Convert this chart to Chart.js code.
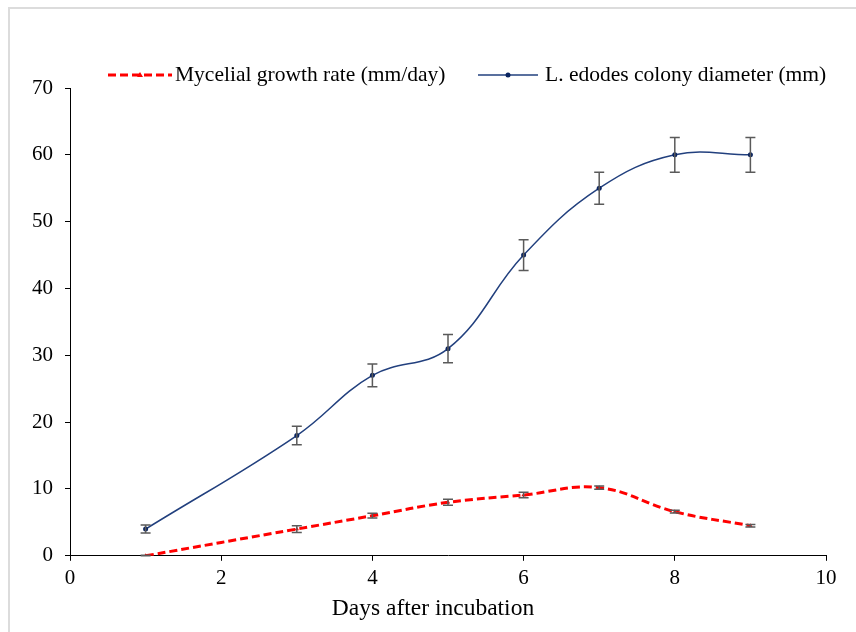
<!DOCTYPE html>
<html>
<head>
<meta charset="utf-8">
<script src="https://cdn.jsdelivr.net/npm/chart.js@4"></script>
<style>
  html, body { margin: 0; padding: 0; background: #fff; }
  #wrap { width: 856px; height: 632px; position: relative; }
</style>
</head>
<body>
<div id="wrap"><canvas id="lineChart" width="856" height="632"></canvas></div>
<script>
// values
const days = [1, 3, 4, 5, 6, 7, 8, 9];
const colonyDiameter = [4, 18, 27, 31, 45, 55, 60, 60];
const colonyErr = [0.6, 1.4, 1.7, 2.1, 2.3, 2.4, 2.6, 2.6];
const growthRate = [0, 4, 6, 8, 9.1, 10.2, 6.6, 4.5];
const growthErr = [0.1, 0.5, 0.35, 0.45, 0.4, 0.25, 0.2, 0.2];
const xTitle = 'Days after incubation';
const legendNames = ['Mycelial growth rate (mm/day)', 'L. edodes colony diameter (mm)'];

const FONT = '"Liberation Serif", "Times New Roman", serif';
const RED = '#ff0000';
const BLUE = '#22407e';

function toPoints(ys) {
    return days.map((d, i) => ({ x: d, y: ys[i] }));
}

// light frame at top / left like the cropped figure
const framePlugin = {
    id: 'frame',
    beforeDraw(chart) {
        const ctx = chart.ctx;
        ctx.save();
        ctx.strokeStyle = '#dcdcdc';
        ctx.lineWidth = 2;
        ctx.beginPath();
        ctx.moveTo(9, 632);
        ctx.lineTo(9, 8);
        ctx.lineTo(856, 8);
        ctx.stroke();
        ctx.restore();
    }
};

// vertical error bars, drawn through the chart scales
const errorBarPlugin = {
    id: 'errorBars',
    afterDatasetsDraw(chart) {
        const ctx = chart.ctx;
        const xs = chart.scales.x, ys = chart.scales.y;
        const sets = [[growthRate, growthErr], [colonyDiameter, colonyErr]];
        ctx.save();
        ctx.strokeStyle = '#5a5a5a';
        ctx.lineWidth = 1.5;
        sets.forEach(([vals, errs]) => {
            vals.forEach((v, i) => {
                const px = xs.getPixelForValue(days[i]);
                const top = ys.getPixelForValue(v + errs[i]);
                const bot = ys.getPixelForValue(Math.max(0, v - errs[i]));
                ctx.beginPath();
                ctx.moveTo(px, top); ctx.lineTo(px, bot);
                ctx.moveTo(px - 5, top); ctx.lineTo(px + 5, top);
                ctx.moveTo(px - 5, bot); ctx.lineTo(px + 5, bot);
                ctx.stroke();
            });
        });
        ctx.restore();
    }
};

// legend at top with line samples and markers, plus the x axis title
const legendPlugin = {
    id: 'topLegend',
    afterDraw(chart) {
        const ctx = chart.ctx;
        const y = 75;
        ctx.save();
        // red dashed sample
        ctx.strokeStyle = RED;
        ctx.lineWidth = 3;
        ctx.setLineDash([8, 4]);
        ctx.beginPath();
        ctx.moveTo(108, y); ctx.lineTo(172, y);
        ctx.stroke();
        ctx.setLineDash([]);
        ctx.fillStyle = RED;
        ctx.beginPath();
        ctx.moveTo(140, y - 3); ctx.lineTo(143, y + 2); ctx.lineTo(137, y + 2);
        ctx.closePath(); ctx.fill();
        // blue sample
        ctx.strokeStyle = BLUE;
        ctx.lineWidth = 1.5;
        ctx.beginPath();
        ctx.moveTo(478, y); ctx.lineTo(538, y);
        ctx.stroke();
        ctx.fillStyle = '#0a2460';
        ctx.beginPath();
        ctx.arc(508, y, 2.5, 0, Math.PI * 2);
        ctx.fill();
        // labels
        ctx.fillStyle = '#000';
        ctx.font = '21.5px ' + FONT;
        ctx.textBaseline = 'middle';
        ctx.textAlign = 'left';
        ctx.fillText(legendNames[0], 175, y);
        ctx.fillText(legendNames[1], 545, y);
        // x axis title (sits a bit left of the plot centre in the original)
        ctx.font = '23.5px ' + FONT;
        ctx.textBaseline = 'alphabetic';
        ctx.textAlign = 'center';
        ctx.fillText(xTitle, 433, 615);
        ctx.restore();
    }
};

let lineCtx = document.getElementById('lineChart').getContext('2d');
let lineChart = new Chart(lineCtx, {
    type: 'line',
    data: {
        datasets: [{
            label: legendNames[0],
            data: toPoints(growthRate),
            borderColor: RED,
            backgroundColor: RED,
            borderWidth: 3,
            borderDash: [8, 4],
            fill: false,
            pointStyle: 'triangle',
            pointRadius: 2.5,
            pointBorderWidth: 0,
            tension: 0.4
        },
        {
            label: legendNames[1],
            data: toPoints(colonyDiameter),
            borderColor: BLUE,
            backgroundColor: '#0a2460',
            borderWidth: 1.5,
            fill: false,
            pointStyle: 'circle',
            pointRadius: 2.5,
            pointBorderWidth: 0,
            tension: 0.4
        }]
    },
    options: {
        responsive: false,
        animation: false,
        layout: { padding: { left: 20, right: 30, top: 88, bottom: 36 } },
        plugins: {
            legend: { display: false },
            tooltip: { enabled: false }
        },
        scales: {
            x: {
                type: 'linear',
                min: 0,
                max: 10,
                border: { color: '#000', width: 1 },
                grid: { drawOnChartArea: false, drawTicks: true, tickLength: 5, color: '#000' },
                ticks: { stepSize: 2, color: '#000', padding: 5, font: { family: FONT, size: 21 }, maxRotation: 0 },
                title: { display: false }
            },
            y: {
                min: 0,
                max: 70,
                border: { color: '#000', width: 1 },
                grid: { drawOnChartArea: false, drawTicks: true, tickLength: 5, color: '#000' },
                ticks: { stepSize: 10, color: '#000', padding: 12, font: { family: FONT, size: 21 } }
            }
        }
    },
    plugins: [framePlugin, errorBarPlugin, legendPlugin]
});
</script>
</body>
</html>
